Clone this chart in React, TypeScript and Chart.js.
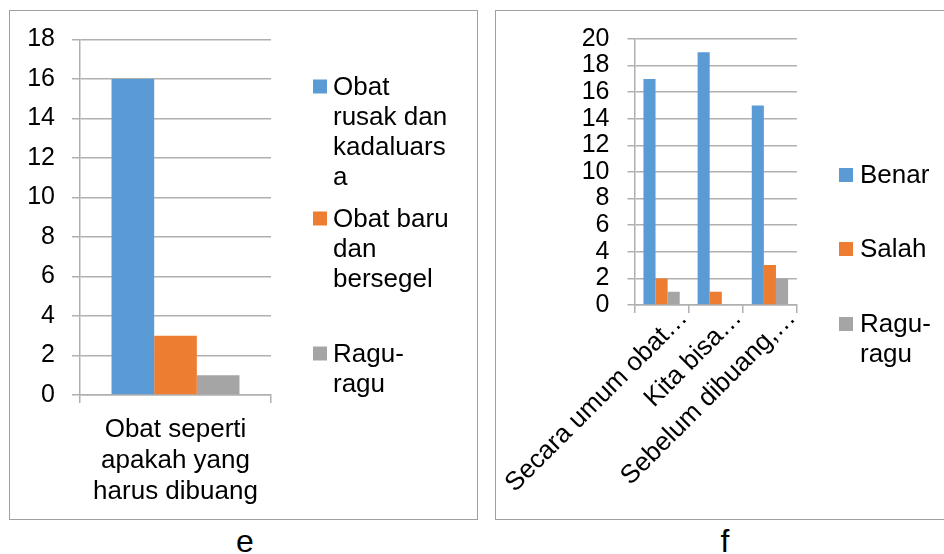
import React, { useEffect, useRef } from "react";
import { Chart, registerables } from "chart.js";

Chart.register(...registerables);

// ---------- Data: chart e ----------
const eCategories = [["Obat seperti", "apakah yang", "harus dibuang"]];
const eSeriesLines = [
  ["Obat", "rusak dan", "kadaluars", "a"],
  ["Obat baru", "dan", "bersegel"],
  ["Ragu-", "ragu"],
];
const eRusak = [16];
const eBaru = [3];
const eRagu = [1];
const eMax = 18;
const eStep = 2;

// ---------- Data: chart f ----------
const fCategories = ["Secara umum obat…", "Kita bisa…", "Sebelum dibuang,…"];
const fSeriesLines = [["Benar"], ["Salah"], ["Ragu-", "ragu"]];
const fBenar = [17, 19, 15];
const fSalah = [2, 1, 3];
const fRagu = [1, 0, 2];
const fMax = 20;
const fStep = 2;

const COLORS = ["#5B9BD5", "#ED7D31", "#A5A5A5"];
const FONT = '"Liberation Sans", Arial, sans-serif';
const GRID = "#b0b0b0";

const sideLegend = {
  id: "sideLegend",
  afterDraw(chart: any, _args: any, opts: any) {
    const ctx = chart.ctx;
    ctx.save();
    ctx.font = `${opts.size}px ${FONT}`;
    ctx.textBaseline = "alphabetic";
    ctx.textAlign = "left";
    chart.data.datasets.forEach((ds: any, i: number) => {
      const lines: string[] = opts.lines[i];
      const y0: number = opts.baselines[i];
      ctx.fillStyle = ds.backgroundColor;
      ctx.fillRect(opts.boxX, y0 - opts.boxRise - opts.box / 2, opts.box, opts.box);
      ctx.fillStyle = "#000";
      lines.forEach((ln, j) => ctx.fillText(ln, opts.textX, y0 + j * opts.lineHeight));
    });
    ctx.restore();
  },
};

function makeDatasets(series: number[][], lines: string[][]) {
  return series.map((data, i) => ({
    label: lines[i].join(" "),
    data,
    backgroundColor: COLORS[i],
    borderWidth: 0,
    categoryPercentage: 0.67,
    barPercentage: 1,
  }));
}

function BarPanel(props: {
  labels: any[];
  series: number[][];
  lines: string[][];
  max: number;
  step: number;
  width: number;
  height: number;
  padding: any;
  yWidth: number;
  xHeight: number;
  yPad: number;
  xTickLen: number;
  yTickLen: number;
  xPad: number;
  rotation: number;
  labelOffset: number;
  legend: any;
}) {
  const ref = useRef<HTMLCanvasElement | null>(null);
  useEffect(() => {
    if (!ref.current) return;
    const chart = new Chart(ref.current, {
      type: "bar",
      data: { labels: props.labels, datasets: makeDatasets(props.series, props.lines) as any },
      options: {
        animation: false,
        responsive: true,
        maintainAspectRatio: false,
        layout: { padding: props.padding },
        plugins: {
          legend: { display: false },
          tooltip: { enabled: false },
          sideLegend: props.legend,
        } as any,
        scales: {
          x: {
            afterFit: (s: any) => {
              s.height = props.xHeight;
              s.paddingLeft = 0;
              s.paddingRight = 0;
            },
            grid: {
              offset: true,
              drawOnChartArea: false,
              drawTicks: true,
              tickLength: props.xTickLen,
              color: GRID,
              lineWidth: 1.5,
            },
            border: { display: true, color: GRID, width: 1.5 },
            ticks: {
              font: { family: FONT, size: 26, lineHeight: 1.2 },
              color: "#000",
              padding: props.xPad,
              autoSkip: false,
              minRotation: props.rotation,
              maxRotation: props.rotation,
              labelOffset: props.labelOffset,
            },
          },
          y: {
            min: 0,
            max: props.max,
            afterFit: (s: any) => {
              s.width = props.yWidth;
              s.paddingTop = 0;
              s.paddingBottom = 0;
            },
            grid: {
              color: GRID,
              lineWidth: 1.5,
              tickLength: props.yTickLen,
              drawTicks: true,
            },
            border: { display: true, color: GRID, width: 1.5 },
            ticks: {
              stepSize: props.step,
              autoSkip: false,
              font: { family: FONT, size: 25 },
              color: "#000",
              padding: props.yPad,
            },
          },
        },
      } as any,
      plugins: [sideLegend as any],
    });
    return () => chart.destroy();
  }, []);
  return (
    <div style={{ position: "relative", width: props.width, height: props.height }}>
      <canvas ref={ref} />
    </div>
  );
}

export default function App() {
  const panelBorder = "1px solid #a0a0a0";
  const caption: React.CSSProperties = {
    position: "absolute",
    top: 525,
    width: 60,
    textAlign: "center",
    fontFamily: FONT,
    fontSize: 32,
    lineHeight: "32px",
    color: "#000",
  };
  return (
    <div
      style={{
        position: "absolute",
        left: 0,
        top: 0,
        width: 944,
        height: 554,
        background: "#fff",
        overflow: "hidden",
      }}
    >
      <div
        style={{
          position: "absolute",
          left: 9,
          top: 10,
          width: 467,
          height: 508,
          border: panelBorder,
        }}
      >
        <BarPanel
          labels={eCategories}
          series={[eRusak, eBaru, eRagu]}
          lines={eSeriesLines}
          max={eMax}
          step={eStep}
          width={467}
          height={508}
          padding={{ left: 10, top: 28.5, right: 206, bottom: 0 }}
          yWidth={60}
          xHeight={124}
          yPad={17}
          xTickLen={8}
          yTickLen={8}
          xPad={11}
          rotation={0}
          labelOffset={0}
          legend={{
            lines: eSeriesLines,
            baselines: [84, 216, 351],
            lineHeight: 30,
            size: 26,
            box: 14,
            boxRise: 8.5,
            boxX: 303,
            textX: 323,
          }}
        />
      </div>
      <div
        style={{
          position: "absolute",
          left: 495,
          top: 10,
          width: 470,
          height: 508,
          border: panelBorder,
        }}
      >
        <BarPanel
          labels={fCategories}
          series={[fBenar, fSalah, fRagu]}
          lines={fSeriesLines}
          max={fMax}
          step={fStep}
          width={448}
          height={508}
          padding={{ left: 38.5, top: 28, right: 147, bottom: 0 }}
          yWidth={100}
          xHeight={214}
          yPad={18}
          xTickLen={8}
          yTickLen={7}
          xPad={-10}
          rotation={45}
          labelOffset={22}
          legend={{
            lines: fSeriesLines,
            baselines: [172, 246, 321],
            lineHeight: 30,
            size: 26,
            box: 14,
            boxRise: 8,
            boxX: 343,
            textX: 364,
          }}
        />
      </div>
      <div style={{ ...caption, left: 215 }}>e</div>
      <div style={{ ...caption, left: 695 }}>f</div>
    </div>
  );
}
